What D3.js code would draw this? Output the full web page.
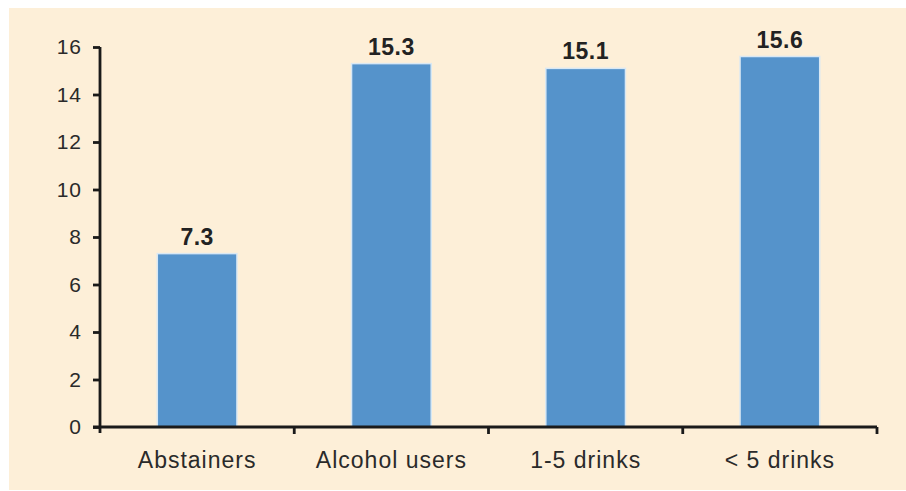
<!DOCTYPE html>
<html><head><meta charset="utf-8">
<script src="https://cdn.jsdelivr.net/npm/d3@7"></script>
<style>html,body{margin:0;padding:0;background:#fff;}svg{display:block;}</style>
</head><body>
<svg id="chart" width="906" height="491"></svg>
<script>
const categories = ["Abstainers", "Alcohol users", "1-5 drinks", "< 5 drinks"];
const values = [7.3, 15.3, 15.1, 15.6];
const valueLabels = ["7.3", "15.3", "15.1", "15.6"];
const yTicks = [0, 2, 4, 6, 8, 10, 12, 14, 16];

const svg = d3.select("#chart");
svg.append("rect").attr("x", 9).attr("y", 8).attr("width", 897).attr("height", 482).attr("fill", "#fdefd8");

const m = {left: 100, right: 877, top: 47, bottom: 427};
const x = d3.scaleBand().domain(categories).range([m.left, m.right]).paddingInner(0.59).paddingOuter(0.295);
const y = d3.scaleLinear().domain([0, 16]).range([m.bottom, m.top]);

// bars
svg.append("g").selectAll("rect").data(values).join("rect")
  .attr("x", (d, i) => x(categories[i]))
  .attr("y", d => y(d))
  .attr("width", x.bandwidth())
  .attr("height", d => y(0) - y(d))
  .attr("fill", "#5593cb")
  .attr("stroke", "#d9e8f4")
  .attr("stroke-width", 1.5);

// value labels
svg.append("g").selectAll("text").data(values).join("text")
  .attr("x", (d, i) => x(categories[i]) + x.bandwidth() / 2)
  .attr("y", d => y(d) - 9)
  .attr("text-anchor", "middle")
  .attr("font-family", "Liberation Sans, Arial, sans-serif")
  .attr("font-weight", "bold")
  .attr("font-size", 23)
  .attr("letter-spacing", "0.5px")
  .attr("fill", "#222")
  .text((d, i) => valueLabels[i]);

// y axis
const yAxis = d3.axisLeft(y).tickValues(yTicks).tickSize(7).tickPadding(11).tickFormat(d3.format("d"));
const gy = svg.append("g").attr("transform", `translate(${m.left},0)`).call(yAxis);
gy.select(".domain").attr("stroke", "#1a1a1a").attr("stroke-width", 2.8).attr("d", `M0,${m.top}V${m.bottom + 6}`);
gy.selectAll(".tick line").attr("stroke", "#1a1a1a").attr("stroke-width", 2.8);
gy.selectAll(".tick text").attr("font-family", "Liberation Sans, Arial, sans-serif").attr("font-size", 21).attr("letter-spacing", "1px").attr("fill", "#2a2a2a");

// x axis
const xAxis = d3.axisBottom(x).tickSize(0).tickPadding(25);
const gx = svg.append("g").attr("transform", `translate(0,${m.bottom})`).call(xAxis);
gx.select(".domain").attr("stroke", "#1a1a1a").attr("stroke-width", 2.8).attr("d", `M${m.left - 7},0H${m.right}`);
gx.selectAll(".tick text").attr("font-family", "Liberation Sans, Arial, sans-serif").attr("font-size", 23).attr("letter-spacing", "1px").attr("fill", "#2a2a2a");
// category boundary ticks
const bounds = categories.map(c => x(c) - x.step() * x.paddingInner() / 2).concat([m.right]);
gx.append("g").selectAll("line").data(bounds.slice(1)).join("line")
  .attr("x1", d => d).attr("x2", d => d).attr("y1", 0).attr("y2", 7)
  .attr("stroke", "#1a1a1a").attr("stroke-width", 2.8);
</script>
</body></html>
